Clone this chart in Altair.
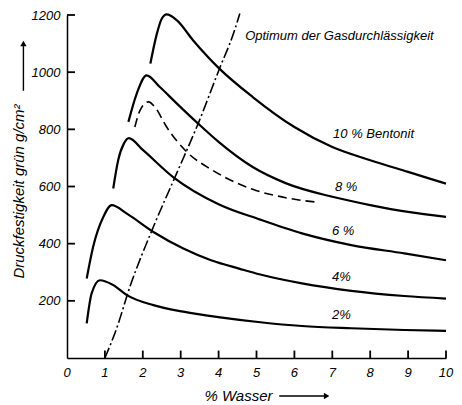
import altair as alt
import pandas as pd

# --- data ---
x_10 = [2.2, 2.37, 2.5, 2.63, 2.9, 3.33, 4.0, 4.9, 6.0, 7.0, 8.0, 9.0, 10.0]
y_10 = [1030, 1134, 1187, 1202, 1181, 1111, 1015, 913, 808, 738, 692, 651, 610]

x_8 = [1.62, 1.84, 2.1, 2.45, 2.9, 3.46, 4.0, 4.9, 5.8, 7.0, 8.0, 9.0, 10.0]
y_8 = [826, 925, 989, 948, 890, 820, 756, 668, 610, 564, 535, 511, 494]

x_8d = [1.79, 1.93, 2.15, 2.32, 2.63, 3.16, 3.8, 4.2, 4.9, 5.8, 6.6]
y_8d = [808, 867, 896, 878, 808, 721, 660, 630, 590, 560, 545]

x_6 = [1.22, 1.35, 1.5, 1.63, 2.0, 2.8, 4.0, 5.1, 6.2, 7.5, 8.9, 10.0]
y_6 = [593, 692, 750, 769, 728, 633, 538, 484, 436, 395, 366, 342]

x_4 = [0.52, 0.69, 0.96, 1.18, 1.58, 2.28, 3.07, 3.8, 4.56, 5.1, 6.2, 7.5, 8.9, 10.0]
y_4 = [278, 389, 494, 535, 505, 441, 383, 342, 312, 292, 261, 235, 217, 208]

x_2 = [0.52, 0.65, 0.87, 1.22, 1.58, 2.28, 3.07, 4.04, 5.1, 6.2, 7.5, 8.9, 10.0]
y_2 = [121, 226, 272, 255, 220, 185, 162, 142, 125, 112, 104, 98, 95]

x_opt = [1.0, 1.3, 1.66, 2.28, 2.89, 3.46, 4.04, 4.39, 4.56]
y_opt = [0, 100, 249, 459, 645, 820, 1018, 1134, 1205]

label_text = ["Optimum der Gasdurchlässigkeit", "10 % Bentonit", "8 %", "6 %", "4%", "2%"]
label_x = [4.70, 7.02, 7.07, 6.99, 6.99, 6.99]
label_y = [1128, 783, 597, 444, 283, 150]

x_ticks = [0, 1, 2, 3, 4, 5, 6, 7, 8, 9, 10]
y_ticks = [200, 400, 600, 800, 1000, 1200]

# arrows next to the axis titles (data units, outside the plot area)
y_arrow_x = [-1.15, -1.15]
y_arrow_y = [935, 1100]
x_arrow_x = [5.6, 6.85]
x_arrow_y = [-133, -133]

FONT = "Liberation Sans"
TICK_X_LEN = 0.21  # inward tick length on the y axis, in x units
TICK_Y_LEN = 26    # inward tick length on the x axis, in y units


def frame(xs, ys, name):
    return pd.DataFrame({"x": xs, "y": ys, "s": name})


solid = pd.concat([
    frame(x_10, y_10, "10"), frame(x_8, y_8, "8"), frame(x_6, y_6, "6"),
    frame(x_4, y_4, "4"), frame(x_2, y_2, "2"),
])
dashed = frame(x_8d, y_8d, "8d")
optimum = frame(x_opt, y_opt, "opt")
labels = pd.DataFrame({"t": label_text, "x": label_x, "y": label_y})
xlab_df = pd.DataFrame({"x": x_ticks})

ytick_df = pd.DataFrame({"y": [float(v) for v in y_ticks],
                         "x": [0.0] * len(y_ticks),
                         "x2": [TICK_X_LEN] * len(y_ticks)})
xtick_df = pd.DataFrame({"x": [float(v) for v in x_ticks[1:]],
                         "y": [0.0] * (len(x_ticks) - 1),
                         "y2": [float(TICK_Y_LEN)] * (len(x_ticks) - 1)})

arrows = pd.concat([frame(y_arrow_x, y_arrow_y, "ya"), frame(x_arrow_x, x_arrow_y, "xa")])
heads = pd.DataFrame({"x": [y_arrow_x[-1], x_arrow_x[-1]],
                      "y": [y_arrow_y[-1], x_arrow_y[-1]],
                      "shape": ["triangle-up", "triangle-right"]})

xs = alt.Scale(domain=[0, 10], nice=False)
ys = alt.Scale(domain=[0, 1200], nice=False)

x_axis = alt.Axis(values=x_ticks, format="d", ticks=False, grid=False,
                  labels=False,
                  domainColor="black", domainWidth=1.5,
                  title="% Wasser", titleFont=FONT, titleFontStyle="italic",
                  titleFontWeight="normal", titleFontSize=15, titleColor="black",
                  titlePadding=30, titleX=171)
y_axis = alt.Axis(values=y_ticks, format="d", ticks=False, grid=False,
                  labelFont=FONT, labelFontStyle="italic", labelFontSize=13,
                  labelColor="black", labelPadding=7, labelFlush=False,
                  domainColor="black", domainWidth=1.5,
                  title="Druckfestigkeit grün g/cm²", titleFont=FONT,
                  titleFontStyle="italic", titleFontWeight="normal",
                  titleFontSize=15, titleColor="black", titlePadding=5,
                  titleY=176)

solid_lines = alt.Chart(solid).mark_line(
    color="black", strokeWidth=2.2, interpolate="monotone"
).encode(x=alt.X("x:Q", scale=xs, axis=x_axis),
         y=alt.Y("y:Q", scale=ys, axis=y_axis), detail="s:N")

dashed_line = alt.Chart(dashed).mark_line(
    color="black", strokeWidth=1.6, strokeDash=[9, 5], interpolate="monotone"
).encode(x=alt.X("x:Q", scale=xs), y=alt.Y("y:Q", scale=ys))

opt_line = alt.Chart(optimum).mark_line(
    color="black", strokeWidth=1.6, strokeDash=[11, 3, 2, 3], interpolate="monotone"
).encode(x=alt.X("x:Q", scale=xs), y=alt.Y("y:Q", scale=ys))

text = alt.Chart(labels).mark_text(
    align="left", baseline="middle", font=FONT, fontStyle="italic",
    fontSize=13, color="black"
).encode(x=alt.X("x:Q", scale=xs), y=alt.Y("y:Q", scale=ys), text="t:N")

xlabels = alt.Chart(xlab_df).mark_text(
    align="center", baseline="top", font=FONT, fontStyle="italic",
    fontSize=13, color="black", dy=9
).encode(x=alt.X("x:Q", scale=xs), y=alt.value(343), text=alt.Text("x:Q", format="d"))

yticks = alt.Chart(ytick_df).mark_rule(color="black", strokeWidth=1.8, clip=False).encode(
    x=alt.X("x:Q", scale=xs), x2="x2:Q", y=alt.Y("y:Q", scale=ys))
xticks = alt.Chart(xtick_df).mark_rule(color="black", strokeWidth=1.8, clip=False).encode(
    x=alt.X("x:Q", scale=xs), y=alt.Y("y:Q", scale=ys), y2="y2:Q")

arrow_lines = alt.Chart(arrows).mark_line(color="black", strokeWidth=1.4, clip=False).encode(
    x=alt.X("x:Q", scale=xs), y=alt.Y("y:Q", scale=ys), detail="s:N")

arrow_heads = alt.Chart(heads).mark_point(
    color="black", filled=True, size=40, opacity=1, clip=False
).encode(x=alt.X("x:Q", scale=xs), y=alt.Y("y:Q", scale=ys),
         shape=alt.Shape("shape:N", scale=None))

chart = alt.layer(solid_lines, dashed_line, opt_line, text, xlabels, yticks, xticks,
                  arrow_lines, arrow_heads).properties(
    width=379, height=343,
    autosize=alt.AutoSizeParams(type="none"),
    padding={"left": 67, "top": 15, "right": 16, "bottom": 47},
    background="white",
).configure_view(strokeWidth=0)

chart.save("out.html", embed_options={"renderer": "svg", "actions": False})
